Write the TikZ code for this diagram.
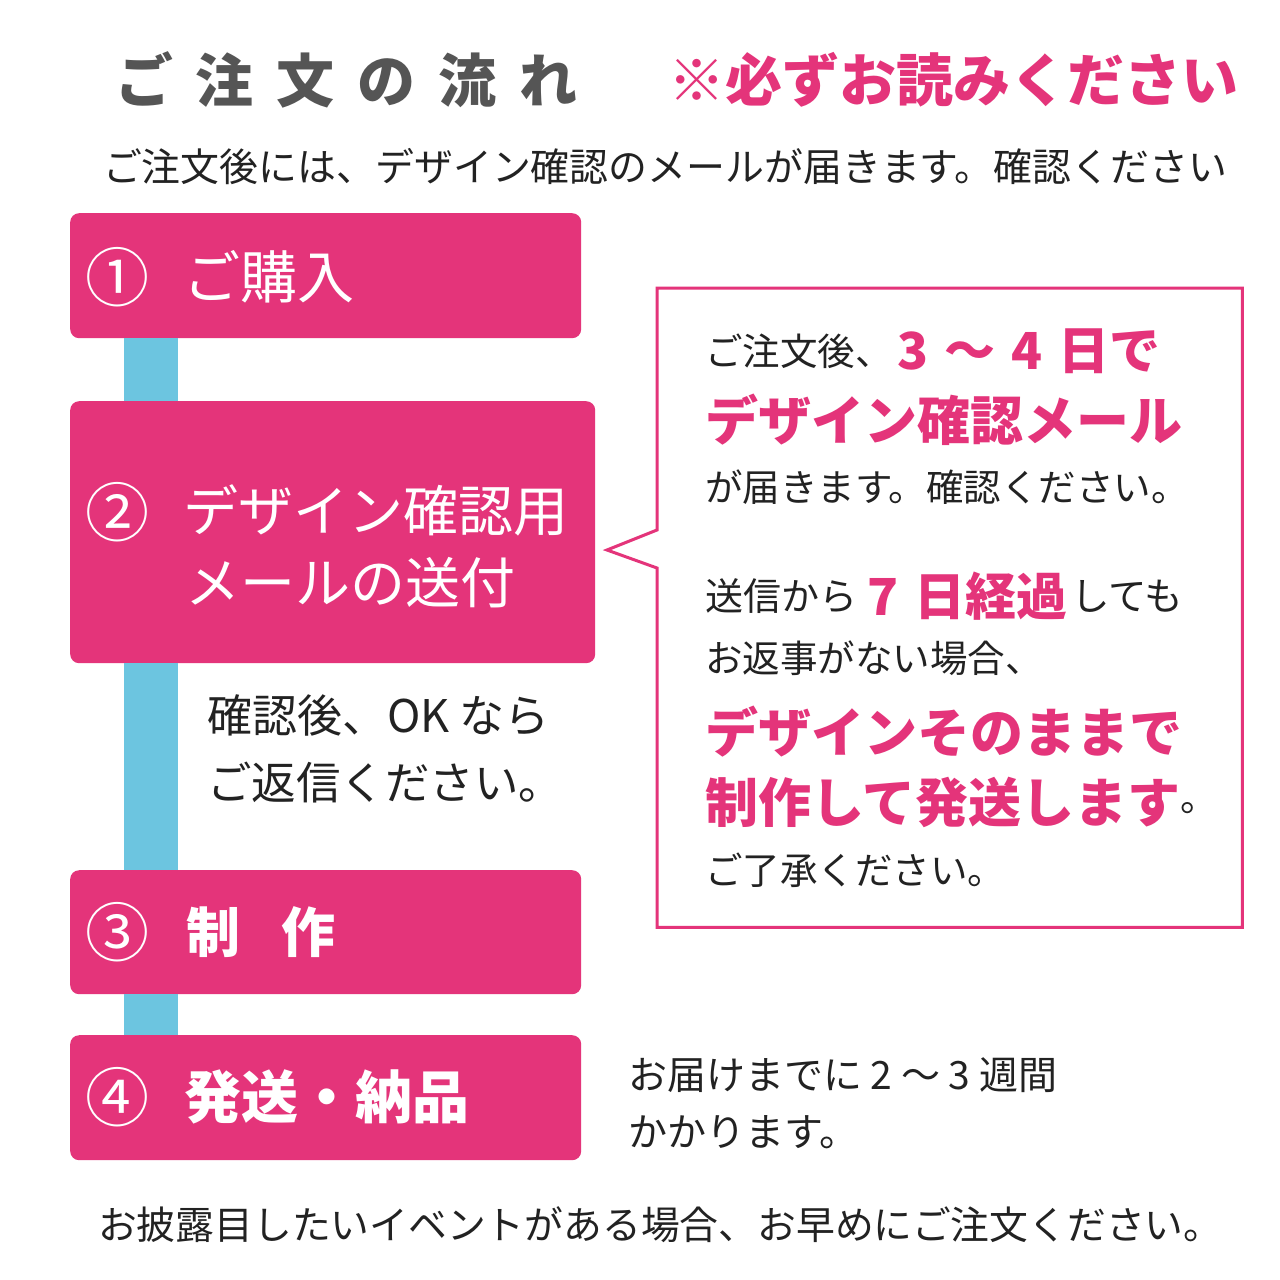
\documentclass[tikz,border=0pt]{standalone}
\usepackage{fontspec}
\usetikzlibrary{calc}
\newfontfamily\jp{Noto Sans CJK JP}
\newcommand\jpsz[1]{\fontsize{#1pt}{#1pt}\selectfont}
\definecolor{pk}{HTML}{E4347A}
\definecolor{bl}{HTML}{6CC5E0}
\definecolor{tg}{HTML}{555555}
\definecolor{tx}{HTML}{222222}
\begin{document}
\begin{tikzpicture}[x=1pt,y=-1pt,
  stepbox/.style={fill=pk, draw=none, rounded corners=9pt, anchor=north west, inner sep=0pt},
  bar/.style={draw=bl, line width=54pt},
  t/.style={anchor=west, inner sep=0pt, outer sep=0pt, text=tx},
  w/.style={anchor=west, inner sep=0pt, outer sep=0pt, text=white},
  num/.style={anchor=center, inner sep=0pt, outer sep=0pt, text=white, font={\jp\jpsz{64}}},
  pkb/.style={anchor=west, inner sep=0pt, outer sep=0pt, text=pk},
]
\useasboundingbox (0,0) rectangle (1280,1280);
\fill[white] (0,0) rectangle (1280,1280);

% titles
\node[t, text=tg, font={\jp\bfseries\jpsz{58}}] (title) at (115,80)
  {ご\hspace{23pt}注\hspace{23pt}文\hspace{23pt}の\hspace{23pt}流\hspace{23pt}れ};
\node[pkb, font={\jp\bfseries\jpsz{57}}] (note) at (668,80) {※必ずお読みください};
\node[t, font={\jp\jpsz{38.9}}] (sub) at (103,167) {ご注文後には、デザイン確認のメールが届きます。確認ください};

% step boxes
\node[stepbox, minimum width=511pt, minimum height=125pt] (b1) at (70,213) {};
\node[stepbox, minimum width=525pt, minimum height=262pt] (b2) at (70,401) {};
\node[stepbox, minimum width=511pt, minimum height=124pt] (b3) at (70,870) {};
\node[stepbox, minimum width=511pt, minimum height=125pt] (b4) at (70,1035) {};

\draw[bar] ($(b1.south west)+(81,0)$) -- ($(b2.north west)+(81,0)$);
\draw[bar] ($(b2.south west)+(81,0)$) -- ($(b3.north west)+(81,0)$);
\draw[bar] ($(b3.south west)+(81,0)$) -- ($(b4.north west)+(81,0)$);

\node[num] (n1) at (117,277) {①};
\node[w, font={\jp\jpsz{57}}] (l1) at (183,277) {ご購入};
\node[num] (n2) at (117,512) {②};
\node[w, font={\jp\jpsz{55}}] (l2a) at (183,510) {デザイン確認用};
\node[w, font={\jp\jpsz{55}}] (l2b) at (185,583) {メールの送付};
\node[num] (n3) at (117,932) {③};
\node[w, font={\jp\bfseries\jpsz{54}}] (l3) at (186,932) {制\hspace{42pt}作};
\node[num] (n4) at (117,1097) {④};
\node[w, font={\jp\bfseries\jpsz{57}}] (l4) at (184,1097) {発送・納品};

% note beside the bar
\node[t, font={\jp\jpsz{45}}] (k1) at (207,715) {確認後、OK なら};
\node[t, font={\jp\jpsz{44.5}}] (k2) at (207,783) {ご返信ください。};

% callout
\node[anchor=north west, minimum width=585pt, minimum height=639pt, inner sep=0pt] (cb) at (657,288) {};
\coordinate (tip) at (607,550);
\draw[draw=pk, line width=3pt, line join=miter, fill=white]
  (cb.north west) -- (cb.north east) -- (cb.south east) -- (cb.south west)
  -- ($(cb.north west)+(0,280)$) -- (tip) -- ($(cb.north west)+(0,242)$) -- cycle;

\node[t, font={\jp\jpsz{37.5}}] (c1a) at (705,351) {ご注文後、};
\node[pkb, font={\jp\bfseries\jpsz{51}}] (c1b) at ($(c1a.east)+(5,0)$) {3\hspace{16pt}～\hspace{16pt}4\hspace{16pt}日で};
\node[pkb, font={\jp\bfseries\jpsz{53}}] (c2) at (705,420) {デザイン確認メール};
\node[t, font={\jp\jpsz{37.5}}] (c3) at (705,487) {が届きます。確認ください。};
\node[t, font={\jp\jpsz{38}}] (c4a) at (705,596) {送信から};
\node[pkb, font={\jp\bfseries\jpsz{51}}] (c4b) at ($(c4a.east)+(10,0)$) {7\hspace{16pt}日経過};
\node[t, font={\jp\jpsz{38.5}}] (c4c) at ($(c4b.east)+(4,0)$) {しても};
\node[t, font={\jp\jpsz{37.5}}] (c5) at (705,658) {お返事がない場合、};
\node[pkb, font={\jp\bfseries\jpsz{53}}] (c6) at (705,732) {デザインそのままで};
\node[pkb, font={\jp\bfseries\jpsz{53}}] (c7a) at (705,802) {制作して発送します};
\node[t, font={\jp\jpsz{37}}] (c7b) at ($(c7a.east)+(0,6)$) {。};
\node[t, font={\jp\jpsz{37.5}}] (c8) at (705,870) {ご了承ください。};

% delivery note
\node[t, font={\jp\jpsz{39}}] (d1) at (628,1075) {お届けまでに 2 ～ 3 週間};
\node[t, font={\jp\jpsz{39}}] (d2) at (628,1132) {かかります。};

% bottom line
\node[t, font={\jp\jpsz{38.8}}] (bot) at (98,1225) {お披露目したいイベントがある場合、お早めにご注文ください。};
\end{tikzpicture}
\end{document}
